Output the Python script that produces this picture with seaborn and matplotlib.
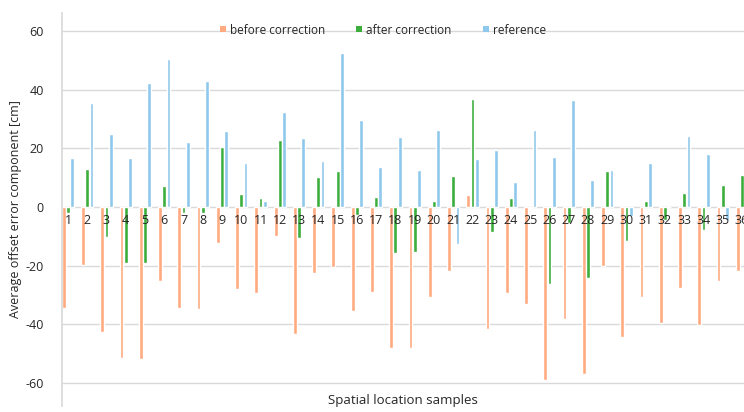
import numpy as np
import pandas as pd
import seaborn as sns
import matplotlib.pyplot as plt
from matplotlib.lines import Line2D

samples = [str(i) for i in range(1, 37)]

before = [-34.5, -19.7, -42.5, -51.6, -51.9, -25.2, -34.5, -34.7, -12.2, -28.0,
          -29.2, -9.8, -43.1, -22.4, -20.3, -35.5, -29.1, -48.2, -48.0, -30.6,
          -21.8, 4.1, -41.4, -29.4, -33.1, -59.0, -38.2, -57.0, -20.1, -44.4,
          -30.6, -39.4, -27.7, -40.2, -25.1, -21.7]
after = [-1.9, 12.8, -10.1, -19.0, -19.2, 7.3, -1.9, -2.0, 20.3, 4.6,
         3.2, 22.7, -10.7, 10.2, 12.2, -2.7, 3.5, -15.8, -15.5, 1.9,
         10.6, 36.7, -8.6, 3.2, -0.3, -26.4, -5.3, -24.3, 12.3, -11.6,
         1.9, -4.4, 4.8, -7.8, 7.4, 10.9]
# last reference bar is cut off by the frame, value unknown
reference = [16.6, 35.4, 24.8, 16.6, 42.4, 50.3, 22.3, 43.0, 25.9, 14.9,
             1.9, 32.5, 23.6, 15.8, 52.4, 29.5, 13.7, 23.9, 12.6, 26.3,
             -12.7, 16.4, 19.4, 8.4, 26.3, 17.0, 36.3, 9.2, 12.6, -3.0,
             14.9, 0.0, 24.2, 18.2, -4.4, np.nan]

series_names = ['before correction', 'after correction', 'reference']
colors = ['#ffaa80', '#3cae3c', '#8ec8ec']
yticks = [-60, -40, -20, 0, 20, 40, 60]

df = pd.DataFrame({
    'sample': samples * 3,
    'value': before + after + reference,
    'series': np.repeat(series_names, len(samples)),
})

sns.set_theme(style='white')
plt.rcParams['font.family'] = ['Open Sans', 'DejaVu Sans']
plt.rcParams['axes.unicode_minus'] = False

fig = plt.figure(figsize=(7.44, 4.12), dpi=100)
ax = fig.add_axes([62 / 744, 6 / 412, 1 - 62 / 744, 393 / 412])

sns.barplot(data=df, x='sample', y='value', hue='series', order=samples,
            hue_order=series_names, palette=colors, errorbar=None,
            width=0.66, gap=0.1, saturation=1, legend=False, ax=ax)

# gridlines behind the bars, tick labels on top of them
ax.set_axisbelow(False)
for y in yticks:
    ax.axhline(y, color='#d9d9d9', lw=1, zorder=0)

ax.set_xlim(-0.31, 35.1)
ax.set_ylim(-67.8, 66.1)
ax.set_yticks(yticks)
ax.tick_params(axis='y', length=0, pad=13, labelsize=9, labelcolor='#262626')
ax.tick_params(axis='x', length=0, pad=5, labelsize=9, labelcolor='#262626')

ax.spines['bottom'].set_position(('data', 0))
ax.spines['bottom'].set_visible(False)
ax.spines['top'].set_visible(False)
ax.spines['right'].set_visible(False)
ax.spines['left'].set_color('#d9d9d9')

ax.set_xlabel('Spatial location samples', fontsize=9.5, color='#262626')
ax.xaxis.set_label_coords(0.5, 0.03)
ax.set_ylabel('Average offset error component [cm]', fontsize=9, color='#262626')
ax.yaxis.set_label_coords(-0.059, 0.5)

handles = [Line2D([], [], marker='s', ls='none', markersize=5, color=c,
                  markeredgewidth=0) for c in colors]
ax.legend(handles, series_names, loc='upper center', bbox_to_anchor=(0.47, 1.0),
          ncol=3, frameon=False, fontsize=8.5, handlelength=0.6,
          handletextpad=0.3, columnspacing=2.6, labelcolor='#262626')

fig.savefig('out.png', dpi=100)
